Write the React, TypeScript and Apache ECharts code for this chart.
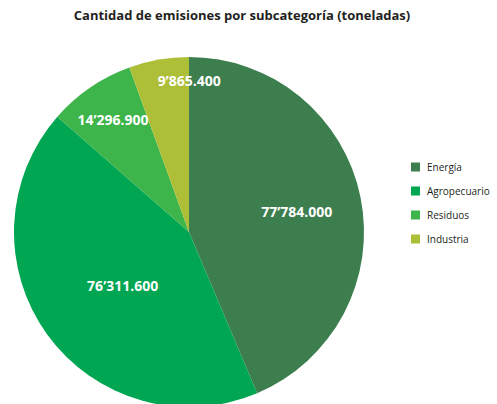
import React, { useEffect, useRef } from "react";
import * as echarts from "echarts";

const categories = ["Energía", "Agropecuario", "Residuos", "Industria"];
const values = [77784.0, 76311.6, 14296.9, 9865.4];
const labels = ["77’784.000", "76’311.600", "14’296.900", "9’865.400"];
const colors = ["#3d7e4e", "#00a651", "#3db54a", "#adbe37"];
const labelOffsets = [
  [19, -3],
  [7, 0],
  [-25, -38],
  [16, -62],
];

export default function App() {
  const ref = useRef<HTMLDivElement>(null);
  useEffect(() => {
    const chart = echarts.init(ref.current!, null, { renderer: "svg" });
    chart.setOption({
      animation: false,
      backgroundColor: "#ffffff",
      title: {
        text: "Cantidad de emisiones por subcategoría (toneladas)",
        left: 237,
        textAlign: "center",
        top: 3,
        textStyle: { fontFamily: "Open Sans", fontWeight: "bold", fontSize: 13, color: "#231f20" },
      },
      legend: {
        orient: "vertical",
        left: 406,
        top: 157,
        itemWidth: 9,
        itemHeight: 9,
        itemGap: 14,
        icon: "rect",
        data: categories,
        textStyle: { fontFamily: "Open Sans", fontSize: 10, color: "#231f20", padding: [0, 0, 0, 2] },
      },
      series: [
        {
          type: "pie",
          center: [189, 232],
          radius: [0, 175],
          startAngle: 90,
          clockwise: true,
          silent: true,
          data: categories.map((c, i) => ({
            name: c,
            value: values[i],
            itemStyle: { color: colors[i] },
          })),
          label: {
            show: true,
            position: "inside",
            formatter: (p: any) => labels[p.dataIndex],
            color: "#ffffff",
            fontFamily: "Open Sans",
            fontWeight: "bold",
            fontSize: 14,
          },
          labelLine: { show: false },
          labelLayout: (p: any) => ({
            dx: labelOffsets[p.dataIndex][0],
            dy: labelOffsets[p.dataIndex][1],
          }),
          itemStyle: { borderWidth: 0 },
        },
      ],
    });
    return () => chart.dispose();
  }, []);
  return (
    <div
      ref={ref}
      style={{ position: "fixed", left: 0, top: 0, width: 497, height: 404 }}
    />
  );
}
